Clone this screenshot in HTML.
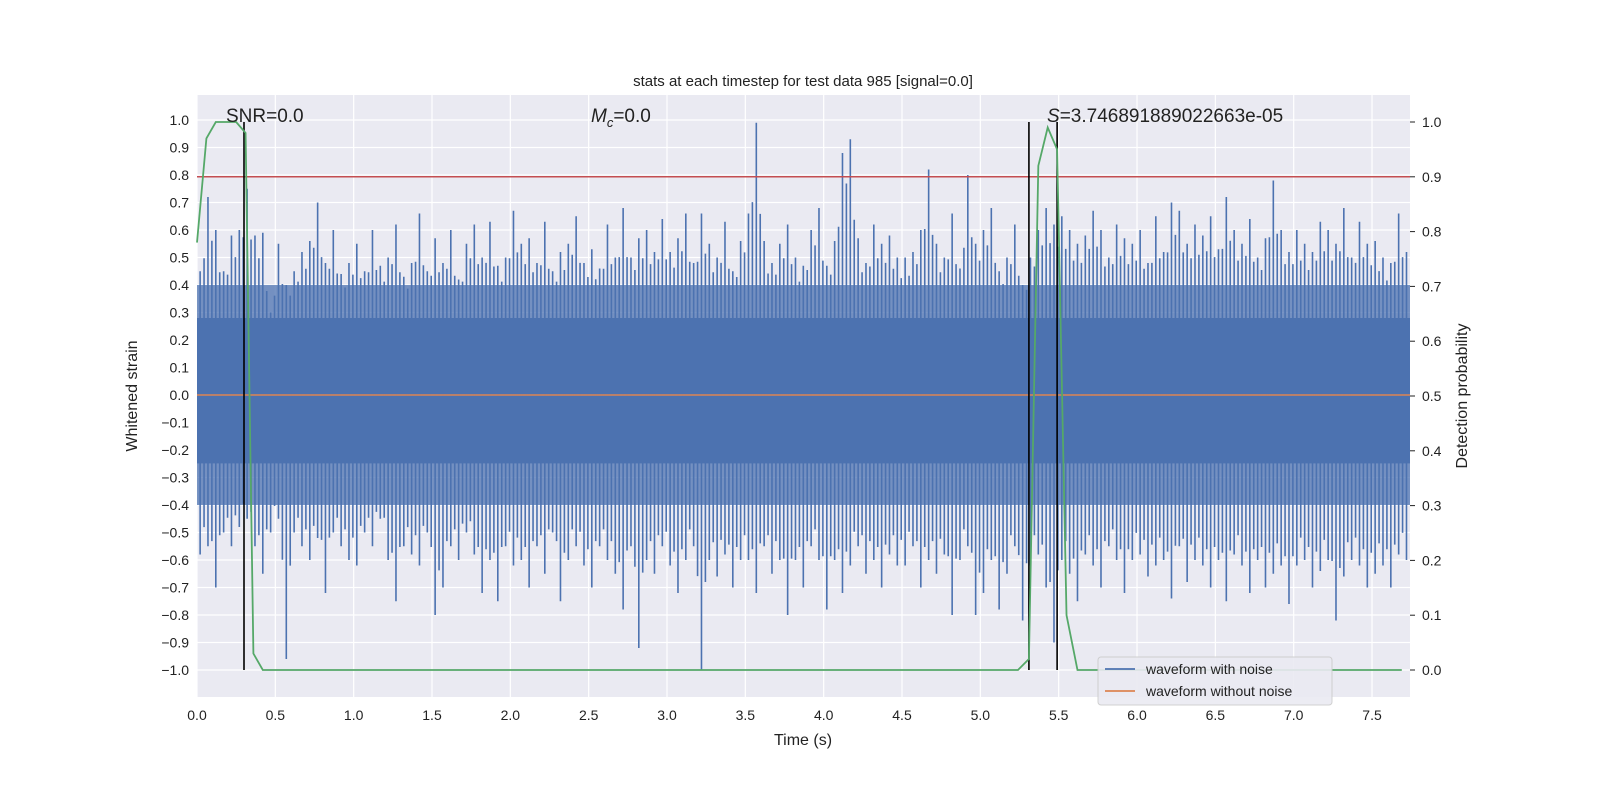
<!DOCTYPE html>
<html><head><meta charset="utf-8"><style>
html,body{margin:0;padding:0;background:#fff;overflow:hidden;width:1600px;height:800px;}
svg{display:block;font-family:"Liberation Sans","DejaVu Sans",sans-serif;}
</style></head><body>
<svg id="chart" width="1600" height="800" xmlns="http://www.w3.org/2000/svg"></svg>
<script>
const upperPeaks=[0.45,0.72,0.6,0.45,0.58,0.6,0.75,0.58,0.59,0.3,
0.55,0.4,0.45,0.52,0.56,0.7,0.48,0.6,0.44,0.48,
0.55,0.45,0.6,0.47,0.5,0.62,0.43,0.48,0.66,0.45,
0.57,0.48,0.6,0.42,0.55,0.62,0.5,0.63,0.47,0.5,
0.67,0.55,0.57,0.48,0.63,0.45,0.52,0.55,0.65,0.48,
0.53,0.46,0.62,0.5,0.68,0.5,0.57,0.6,0.52,0.64,
0.52,0.57,0.66,0.48,0.66,0.55,0.5,0.63,0.45,0.56,
0.66,0.99,0.56,0.48,0.55,0.62,0.5,0.47,0.6,0.68,
0.47,0.56,0.88,0.93,0.57,0.48,0.62,0.55,0.58,0.5,
0.5,0.52,0.6,0.82,0.55,0.5,0.66,0.46,0.8,0.55,
0.6,0.68,0.45,0.5,0.62,0.4,0.5,0.6,0.68,0.62,
0.65,0.6,0.55,0.58,0.67,0.6,0.5,0.62,0.57,0.55,
0.6,0.48,0.65,0.52,0.7,0.67,0.55,0.62,0.58,0.65,
0.53,0.72,0.6,0.55,0.64,0.5,0.57,0.78,0.6,0.52,
0.6,0.55,0.52,0.63,0.6,0.55,0.68,0.5,0.63,0.55,
0.56,0.5,0.48,0.66,0.52,0.57];
const lowerPeaks=[-0.58,-0.55,-0.7,-0.5,-0.55,-0.48,-0.45,-0.55,-0.65,-0.5,
-0.45,-0.96,-0.5,-0.55,-0.6,-0.52,-0.72,-0.5,-0.55,-0.6,
-0.62,-0.5,-0.55,-0.45,-0.6,-0.75,-0.55,-0.58,-0.62,-0.5,
-0.8,-0.7,-0.55,-0.6,-0.5,-0.58,-0.72,-0.6,-0.75,-0.55,
-0.62,-0.6,-0.7,-0.55,-0.65,-0.5,-0.75,-0.6,-0.55,-0.62,
-0.7,-0.55,-0.6,-0.65,-0.78,-0.55,-0.92,-0.6,-0.65,-0.55,
-0.62,-0.72,-0.6,-0.55,-1.0,-0.6,-0.66,-0.58,-0.7,-0.6,
-0.6,-0.72,-0.55,-0.65,-0.6,-0.8,-0.6,-0.7,-0.55,-0.6,
-0.78,-0.6,-0.72,-0.62,-0.55,-0.65,-0.6,-0.7,-0.58,-0.62,
-0.62,-0.55,-0.7,-0.6,-0.65,-0.58,-0.8,-0.6,-0.55,-0.8,
-0.72,-0.6,-0.78,-0.65,-0.55,-0.82,-0.62,-0.58,-0.7,-0.9,
-0.6,-0.65,-0.75,-0.58,-0.62,-0.7,-0.55,-0.6,-0.72,-0.6,
-0.58,-0.66,-0.62,-0.6,-0.74,-0.55,-0.68,-0.6,-0.62,-0.7,
-0.6,-0.75,-0.58,-0.62,-0.72,-0.6,-0.7,-0.65,-0.62,-0.76,
-0.62,-0.6,-0.7,-0.64,-0.6,-0.82,-0.66,-0.6,-0.62,-0.7,
-0.65,-0.62,-0.7,-0.58,-0.6,-0.66];
const sampleStep=0.05;
const probTimes=[0,0.06,0.12,0.25,0.31,0.36,0.42,5.24,5.31,5.37,5.43,5.49,5.55,5.62,7.69];
const probValues=[0.78,0.97,1.0,1.0,0.98,0.03,0.0,0.0,0.02,0.92,0.99,0.95,0.1,0.0,0.0];
const markerTimes=[0.30,5.31,5.49];
const threshold=0.9;
const xTicks=[0,0.5,1,1.5,2,2.5,3,3.5,4,4.5,5,5.5,6,6.5,7,7.5];
const yTicks=[-1,-0.9,-0.8,-0.7,-0.6,-0.5,-0.4,-0.3,-0.2,-0.1,0,0.1,0.2,0.3,0.4,0.5,0.6,0.7,0.8,0.9,1.0];
const y2Ticks=[0,0.1,0.2,0.3,0.4,0.5,0.6,0.7,0.8,0.9,1.0];

const L=197,R=1410,T=95,B=697,XMAX=(1410-197)/156.67;
const X=t=>197+t*156.67;
const Y=v=>395-v*275;
const Y2=p=>670-p*548;
const svg=document.getElementById('chart');
const NS='http://www.w3.org/2000/svg';
function mk(tag,attrs,parent){const e=document.createElementNS(NS,tag);for(const k in attrs)e.setAttribute(k,attrs[k]);(parent||svg).appendChild(e);return e;}
function txt(s,attrs,parent){const e=mk('text',attrs,parent);e.textContent=s;return e;}

const bg=mk('rect',{x:L,y:T,width:R-L,height:B-T,fill:'#EAEAF2'});


xTicks.forEach(t=>{mk('line',{x1:X(t),x2:X(t),y1:T,y2:B,stroke:'#fff','stroke-width':1.2});
 const l=txt(t.toFixed(1),{x:X(t),y:B+23,'text-anchor':'middle','font-size':14,fill:'#222'});
 });
yTicks.forEach(v=>{mk('line',{x1:L,x2:R,y1:Y(v),y2:Y(v),stroke:'#fff','stroke-width':1.2});
 const l=txt((v<0?'\u2212':'')+Math.abs(v).toFixed(1),{x:L-8,y:Y(v)+5,'text-anchor':'end','font-size':14,fill:'#222'});
 });
y2Ticks.forEach(p=>{mk('line',{x1:R,x2:R+5,y1:Y2(p),y2:Y2(p),stroke:'#222'});
 const l=txt(p.toFixed(1),{x:R+12,y:Y2(p)+5,'font-size':14,fill:'#222'});
 });

const noise=mk('g',{stroke:'#4C72B0','stroke-width':1.6});


mk('rect',{x:L,y:Y(0.28),width:R-L,height:Y(-0.25)-Y(0.28),fill:'#4C72B0',stroke:'none'},noise);
mk('rect',{x:L,y:Y(0.40),width:R-L,height:Y(0.28)-Y(0.40),fill:'#4C72B0',opacity:0.75,stroke:'none'},noise);
mk('rect',{x:L,y:Y(-0.25),width:R-L,height:Y(-0.40)-Y(-0.25),fill:'#4C72B0',opacity:0.75,stroke:'none'},noise);
upperPeaks.forEach((u,i)=>{const t=i*sampleStep+0.02;if(t>XMAX)return;
 const lo=lowerPeaks[i];
 mk('line',{x1:X(t),x2:X(t),y1:Y(u),y2:Y(lo)},noise);
 const t2=t+sampleStep/2;if(t2<XMAX){const u2=upperPeaks[Math.min(i+1,upperPeaks.length-1)];const l2=lowerPeaks[Math.min(i+1,lowerPeaks.length-1)];
 mk('line',{x1:X(t2),x2:X(t2),y1:Y((u+u2)/2*0.85),y2:Y((lo+l2)/2*0.85)},noise);}
});
const clean=mk('line',{x1:L,x2:R,y1:Y(0),y2:Y(0),stroke:'#DD8452','stroke-width':1.6});

const thr=mk('line',{x1:L,x2:R,y1:Y2(threshold),y2:Y2(threshold),stroke:'#C44E52','stroke-width':1.5});

markerTimes.forEach(t=>{const m=mk('line',{x1:X(t),x2:X(t),y1:Y2(1.0),y2:Y2(0),stroke:'#000','stroke-width':1.6});
 });
const gp=mk('polyline',{points:probTimes.map((t,i)=>X(t)+','+Y2(probValues[i])).join(' '),fill:'none',stroke:'#55A868','stroke-width':1.8});


const t1=txt('stats at each timestep for test data 985 [signal=0.0]',{x:803,y:86,'text-anchor':'middle','font-size':15,fill:'#222'});

const a1=txt('SNR=0.0',{x:226,y:122,'font-size':19,fill:'#222'});
const a2=txt('',{x:591,y:122,'font-size':19,fill:'#222'});a2.innerHTML='<tspan font-style="italic">M</tspan><tspan font-size="13" dy="5" font-style="italic">c</tspan><tspan dy="-5">=0.0</tspan>';

const a3=txt('',{x:1047,y:122,'font-size':19,fill:'#222'});a3.innerHTML='<tspan font-style="italic">S</tspan>=3.746891889022663e-05';

const xl=txt('Time (s)',{x:803,y:745,'text-anchor':'middle','font-size':16,fill:'#222'});
const yl=txt('Whitened strain',{x:137,y:396,'text-anchor':'middle','font-size':16,fill:'#222',transform:'rotate(-90 137 396)'});
const y2l=txt('Detection probability',{x:1467,y:396,'text-anchor':'middle','font-size':16,fill:'#222',transform:'rotate(-90 1467 396)'});

const lg=mk('g',{});
mk('rect',{x:1098,y:657,width:234,height:48,rx:3,fill:'#EAEAF2',stroke:'#ccc',opacity:0.9},lg);
const e1=mk('g',{},lg);
mk('line',{x1:1105,x2:1135,y1:669,y2:669,stroke:'#4C72B0','stroke-width':1.8},e1);
txt('waveform with noise',{x:1146,y:674,'font-size':14,fill:'#222'},e1);
const e2=mk('g',{},lg);
mk('line',{x1:1105,x2:1135,y1:691,y2:691,stroke:'#DD8452','stroke-width':1.8},e2);
txt('waveform without noise',{x:1146,y:696,'font-size':14,fill:'#222'},e2);
</script>
</body></html>
